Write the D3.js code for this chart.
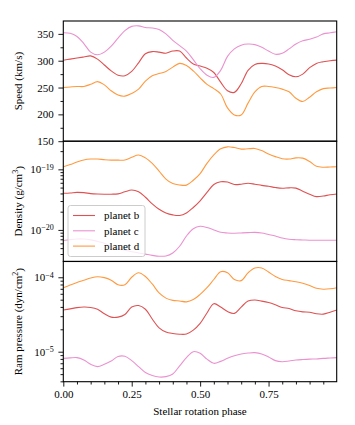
<!DOCTYPE html>
<html>
<head>
<meta charset="utf-8">
<script src="https://cdn.jsdelivr.net/npm/d3@7"></script>
<style>
    body { margin: 0; background: #fff; }
    svg { display: block; }
    text { font-family: "Liberation Serif", "DejaVu Serif", serif; fill: #000; }
</style>
</head>
<body>
<div id="chart"></div>
<script>
    // Data
    var phase = [0, 0.025, 0.05, 0.075, 0.1, 0.125, 0.15, 0.175, 0.2, 0.225, 0.25, 0.275, 0.3, 0.325, 0.35, 0.375, 0.4,
        0.425, 0.45, 0.475, 0.5, 0.525, 0.55, 0.575, 0.6, 0.625, 0.65, 0.675, 0.7, 0.725, 0.75, 0.775, 0.8, 0.825, 0.85,
        0.875, 0.9, 0.925, 0.95, 0.975, 1];
    var planets = ['planet b', 'planet c', 'planet d'];
    var colors = ['#de5253', '#ea92cf', '#ff9a40'];

    // Speed (km/s)
    var speedB = [301, 303, 305, 307, 309, 303, 292, 281, 273, 272, 280, 296, 313, 317, 316, 314, 318, 318, 305, 294, 290,
        286, 278, 260, 244, 241, 257, 282, 293, 295, 294, 290, 283, 274, 270, 275, 287, 295, 298, 300, 301];
    var speedC = [352, 351, 345, 332, 316, 311, 316, 327, 342, 356, 364, 365, 362, 361, 358, 350, 338, 328, 318, 302, 285,
        273, 269, 282, 308, 322, 329, 331, 330, 325, 318, 312, 314, 322, 331, 337, 340, 344, 350, 352, 354];
    var speedD = [250, 251, 252, 252, 256, 261, 255, 244, 236, 234, 239, 247, 262, 272, 276, 280, 288, 295, 291, 281, 268,
        256, 248, 238, 212, 199, 199, 221, 242, 252, 252, 250, 247, 242, 230, 224, 232, 242, 248, 249, 250];

    // Density, log10 of g/cm^3
    var densityLogB = [-19.395, -19.39, -19.38, -19.385, -19.4, -19.407, -19.41, -19.41, -19.405, -19.37, -19.342, -19.37,
        -19.46, -19.57, -19.66, -19.72, -19.752, -19.762, -19.72, -19.63, -19.52, -19.38, -19.25, -19.205, -19.21, -19.25,
        -19.245, -19.23, -19.245, -19.265, -19.28, -19.3, -19.312, -19.305, -19.31, -19.36, -19.41, -19.45, -19.44, -19.42, -19.407];
    var densityLogC = [-20.176, -20.16, -20.15, -20.15, -20.165, -20.19, -20.22, -20.27, -20.31, -20.335, -20.36, -20.38,
        -20.4, -20.42, -20.435, -20.43, -20.38, -20.27, -20.1, -19.98, -19.94, -19.96, -20.0, -20.04, -20.05, -20.054,
        -20.05, -20.045, -20.04, -20.05, -20.075, -20.1, -20.135, -20.155, -20.162, -20.166, -20.17, -20.17, -20.17, -20.17, -20.17];
    var densityLogD = [-18.957, -18.92, -18.88, -18.845, -18.83, -18.83, -18.84, -18.847, -18.848, -18.845, -18.8, -18.764,
        -18.81, -18.9, -19.03, -19.16, -19.235, -19.258, -19.26, -19.18, -19.07, -18.9, -18.76, -18.66, -18.628, -18.64,
        -18.666, -18.66, -18.655, -18.69, -18.745, -18.79, -18.825, -18.83, -18.81, -18.815, -18.87, -18.95, -18.965, -18.96, -18.957];

    // Ram pressure, log10 of dyn/cm^2
    var pressureLogB = [-4.44, -4.425, -4.408, -4.4, -4.405, -4.43, -4.49, -4.535, -4.535, -4.5, -4.4, -4.38, -4.43, -4.56,
        -4.68, -4.735, -4.755, -4.765, -4.762, -4.71, -4.62, -4.48, -4.355, -4.4, -4.46, -4.485, -4.4, -4.32, -4.305, -4.32,
        -4.34, -4.37, -4.405, -4.42, -4.45, -4.465, -4.47, -4.49, -4.495, -4.47, -4.44];
    var pressureLogC = [-5.089, -5.083, -5.08, -5.11, -5.17, -5.2, -5.17, -5.125, -5.065, -5.062, -5.12, -5.2, -5.28, -5.32,
        -5.34, -5.335, -5.3, -5.19, -5.08, -5.0, -5.02, -5.1, -5.156, -5.13, -5.089, -5.055, -5.03, -5.018, -5.013, -5.03,
        -5.07, -5.12, -5.134, -5.125, -5.112, -5.105, -5.1, -5.097, -5.09, -5.085, -5.08];
    var pressureLogD = [-4.14, -4.105, -4.07, -4.04, -4.01, -3.992, -4.005, -4.04, -4.1, -4.1, -4.0, -3.94, -3.99, -4.09,
        -4.21, -4.28, -4.31, -4.318, -4.33, -4.3, -4.23, -4.14, -4.03, -3.925, -3.94, -4.03, -4.045, -3.94, -3.875, -3.875,
        -3.93, -3.99, -4.03, -4.045, -4.06, -4.08, -4.11, -4.148, -4.16, -4.155, -4.14];

    // Ticks
    var phaseTicks = [0, 0.25, 0.5, 0.75];
    var phaseMinorTicks = [0.05, 0.1, 0.15, 0.2, 0.3, 0.35, 0.4, 0.45, 0.55, 0.6, 0.65, 0.7, 0.8, 0.85, 0.9, 0.95];
    var speedTicks = [150, 200, 250, 300, 350];
    var speedMinorTicks = [175, 225, 275, 325];
    var densityExponents = [-20, -19];
    var pressureExponents = [-5, -4];

    // Layout
    var width = 355, height = 425;
    var left = 63.3, right = 336.7;
    var panelTops = [21, 141.2, 261.5];
    var panelH = 120.2;

    function toPow(a) { return a.map(function(v) { return Math.pow(10, v); }); }
    function logMinor(exps) {
        var out = [];
        exps.forEach(function(e) { for (var m = 2; m <= 9; m++) out.push(m * Math.pow(10, e)); });
        out.push(2e-21, 3e-21, 4e-21, 5e-21, 6e-21, 7e-21, 8e-21, 9e-21, 2e-6, 3e-6, 4e-6, 5e-6, 6e-6, 7e-6, 8e-6, 9e-6);
        return out;
    }

    var panels = [
        { label: ['Speed (km/s)'], series: [speedB, speedC, speedD], log: false,
          domain: [150, 374], ticks: speedTicks, minor: speedMinorTicks },
        { label: ['Density (g/cm', '3', ')'], series: [toPow(densityLogB), toPow(densityLogC), toPow(densityLogD)], log: true,
          domain: [Math.pow(10, -20.52), Math.pow(10, -18.535)], exps: densityExponents },
        { label: ['Ram pressure (dyn/cm', '2', ')'], series: [toPow(pressureLogB), toPow(pressureLogC), toPow(pressureLogD)], log: true,
          domain: [Math.pow(10, -5.403), Math.pow(10, -3.788)], exps: pressureExponents }
    ];

    var svg = d3.select('#chart').append('svg')
        .attr('width', width).attr('height', height);

    var xScale = d3.scaleLinear().domain([0, 0.999]).range([left, right]);

    panels.forEach(function(p, i) {
        var top = panelTops[i];
        var yScale = (p.log ? d3.scaleLog() : d3.scaleLinear())
            .domain(p.domain).range([top + panelH, top]);
        var g = svg.append('g').attr('class', 'panel');

        // Clip
        svg.append('clipPath').attr('id', 'clip' + i)
            .append('rect').attr('x', left).attr('y', top).attr('width', right - left).attr('height', panelH);

        // Curves
        var line = d3.line()
            .x(function(d, k) { return xScale(phase[k]); })
            .y(function(d) { return yScale(d); })
            .curve(d3.curveCatmullRom.alpha(0.5));
        g.append('g').attr('clip-path', 'url(#clip' + i + ')')
            .selectAll('path').data(p.series).enter().append('path')
            .attr('d', line)
            .attr('fill', 'none')
            .attr('stroke', function(d, k) { return colors[k]; })
            .attr('stroke-width', 1.1);

        // Y axis
        var majorVals, minorVals, fmt;
        if (p.log) {
            majorVals = p.exps.map(function(e) { return Math.pow(10, e); });
            minorVals = logMinor(p.exps).filter(function(v) {
                return v >= p.domain[0] && v <= p.domain[1];
            });
        } else {
            majorVals = p.ticks;
            minorVals = p.minor;
        }
        var yMinor = g.append('g').attr('transform', 'translate(' + left + ',0)')
            .call(d3.axisLeft(yScale).tickValues(minorVals).tickFormat('').tickSize(2.8));
        var yMajor = g.append('g').attr('transform', 'translate(' + left + ',0)')
            .call(d3.axisLeft(yScale).tickValues(majorVals).tickSize(4.9).tickPadding(4.6)
                .tickFormat(function(d) { return p.log ? '' : d; }));
        [yMinor, yMajor].forEach(function(a) {
            a.select('.domain').remove();
            a.selectAll('line').attr('stroke', '#000').attr('stroke-width', 0.9);
            a.selectAll('text').style('font-size', '11px').style('font-family', null);
        });
        if (p.log) {
            yMajor.selectAll('.tick text').each(function(d, k) {
                var t = d3.select(this);
                t.append('tspan').text('10');
                t.append('tspan').attr('dy', '-0.45em').style('font-size', '8px')
                    .text('\u2212' + Math.abs(p.exps[k]));
            });
        }

        // Y label
        var yl = svg.append('text')
            .attr('transform', 'translate(18,' + (top + panelH / 2) + ') rotate(-90)')
            .attr('text-anchor', 'middle').attr('dy', '0.35em')
            .style('font-size', '11px');
        yl.append('tspan').text(p.label[0]);
        if (p.label.length > 1) {
            yl.append('tspan').attr('dy', '-0.45em').style('font-size', '8px').text(p.label[1]);
            yl.append('tspan').attr('dy', '0.45em').text(p.label[2]);
        }

        // Frame
        g.append('rect').attr('x', left).attr('y', top).attr('width', right - left).attr('height', panelH)
            .attr('fill', 'none').attr('stroke', '#000').attr('stroke-width', 1.1);
    });

    // X axis on the bottom panel
    var xBase = panelTops[2] + panelH;
    var xMinor = svg.append('g').attr('transform', 'translate(0,' + xBase + ')')
        .call(d3.axisBottom(xScale).tickValues(phaseMinorTicks).tickFormat('').tickSize(2.8));
    var xMajor = svg.append('g').attr('transform', 'translate(0,' + xBase + ')')
        .call(d3.axisBottom(xScale).tickValues(phaseTicks).tickSize(4.9).tickPadding(3.5).tickFormat(d3.format('.2f')));
    [xMinor, xMajor].forEach(function(a) {
        a.select('.domain').remove();
        a.selectAll('line').attr('stroke', '#000').attr('stroke-width', 0.9);
        a.selectAll('text').style('font-size', '11px').style('font-family', null);
    });
    svg.append('text').attr('x', (left + right) / 2).attr('y', 415)
        .attr('text-anchor', 'middle').style('font-size', '11px')
        .text('Stellar rotation phase');

    // Legend
    var legend = svg.append('g').attr('transform', 'translate(68,205.5)');
    legend.append('rect').attr('width', 77).attr('height', 51).attr('rx', 2.5)
        .attr('fill', '#fff').attr('fill-opacity', 0.8)
        .attr('stroke', '#ccc').attr('stroke-width', 1);
    planets.forEach(function(name, k) {
        var ly = 10 + k * 15.3;
        legend.append('line').attr('x1', 5).attr('x2', 27).attr('y1', ly).attr('y2', ly)
            .attr('stroke', colors[k]).attr('stroke-width', 1.1);
        legend.append('text').attr('x', 36).attr('y', ly).attr('dy', '0.35em')
            .style('font-size', '11px').text(name);
    });
</script>
</body>
</html>
